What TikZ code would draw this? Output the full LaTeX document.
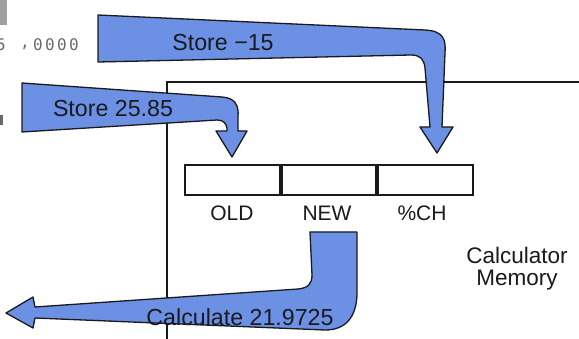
\documentclass[tikz,border=0pt]{standalone}
\usepackage{fontspec}
\setmainfont{Liberation Sans}
\newfontfamily\lcdfont{DejaVu Sans Mono}
\definecolor{arrowblue}{RGB}{108,145,228}
\definecolor{lcdgrey}{RGB}{105,105,105}
\definecolor{boxgrey}{RGB}{160,160,160}
\definecolor{inkblack}{RGB}{25,25,30}
\tikzset{
  bigarrow/.style={fill=arrowblue, draw=inkblack, line width=1.3pt, line join=round},
  label/.style={font=\fontsize{21}{25}\selectfont, text=inkblack, inner sep=0pt},
  arrowlabel/.style={label, font=\fontsize{23.2}{27}\selectfont},
  memlabel/.style={label, font=\fontsize{22.5}{27}\selectfont},
  cell/.style={draw=inkblack, line width=2pt, minimum width=94.5pt, minimum height=30pt, inner sep=0pt},
  lcd/.style={font=\lcdfont\fontsize{16}{19}\selectfont, text=lcdgrey, inner sep=0pt},
  memline/.style={draw=inkblack, line width=1.5pt}
}
\begin{document}
\begin{tikzpicture}[x=1pt,y=-1pt]
\useasboundingbox (0,0) rectangle (579,339);
\fill[white] (0,0) rectangle (579,339);
% calculator display fragment
\fill[boxgrey] (0,0) rectangle (7,25);
\node[lcd, anchor=east] (d5) at (6,45) {5};
\node[lcd] (dcomma) at (25,47) {,};
\node[lcd] (d1) at (38,45) {0};
\node[lcd] (d2) at (50,45) {0};
\node[lcd] (d3) at (62,45) {0};
\node[lcd] (d4) at (74,45) {0};
\fill[lcdgrey] (0,115) rectangle (3,125);
% memory box
\coordinate (memtl) at (167,82);
\coordinate (membl) at (167,339);
\coordinate (memtr) at (579,82);
\draw[memline] (membl) -- (memtl) -- (memtr);
% registers
\node[cell] (oldcell) at (232.5,180) {};
\node[cell, anchor=west] (newcell) at (oldcell.east) {};
\node[cell, anchor=west] (pchcell) at (newcell.east) {};
\node[label] (oldlbl) at (232,213) {OLD};
\node[label] (newlbl) at (327,213) {NEW};
\node[label] (pchlbl) at (422,213) {\%CH};
\node[memlabel] (calc) at (517,255) {Calculator};
\node[memlabel] (mem) at (517,280) {Memory};
% Store -15 arrow
\draw[bigarrow] (98,15) -- (425,30) .. controls (444,31) and (446,40) .. (445,53)
  -- (442,127) -- (453,127) -- (437,153) -- (420,127) -- (430,127) -- (425,68)
  .. controls (424,59) and (420,55) .. (411,55) -- (98,62) -- cycle;
\node[arrowlabel] (st15) at (223,43) {Store −15};
% Store 25.85 arrow
\draw[bigarrow] (22,83) -- (222,97) .. controls (235,98) and (239,105) .. (238,117)
  -- (238,131) -- (247,131) -- (232,157) -- (216,131) -- (227,131) -- (227,128)
  .. controls (226,123) and (223,120) .. (217,120) -- (22,132) -- cycle;
\node[arrowlabel] (st25) at (113,109) {Store 25.85};
% Calculate arrow
\draw[bigarrow] (310,232) -- (357,232) -- (357,295) .. controls (356,318) and (345,330) .. (325,330)
  -- (35,318) -- (33,328) -- (6,313) -- (33,297) -- (35,307) -- (298,289)
  .. controls (308,288) and (312,284) .. (312,275) -- cycle;
\node[arrowlabel] (calcval) at (240,317) {Calculate 21.9725};
\end{tikzpicture}
\end{document}
